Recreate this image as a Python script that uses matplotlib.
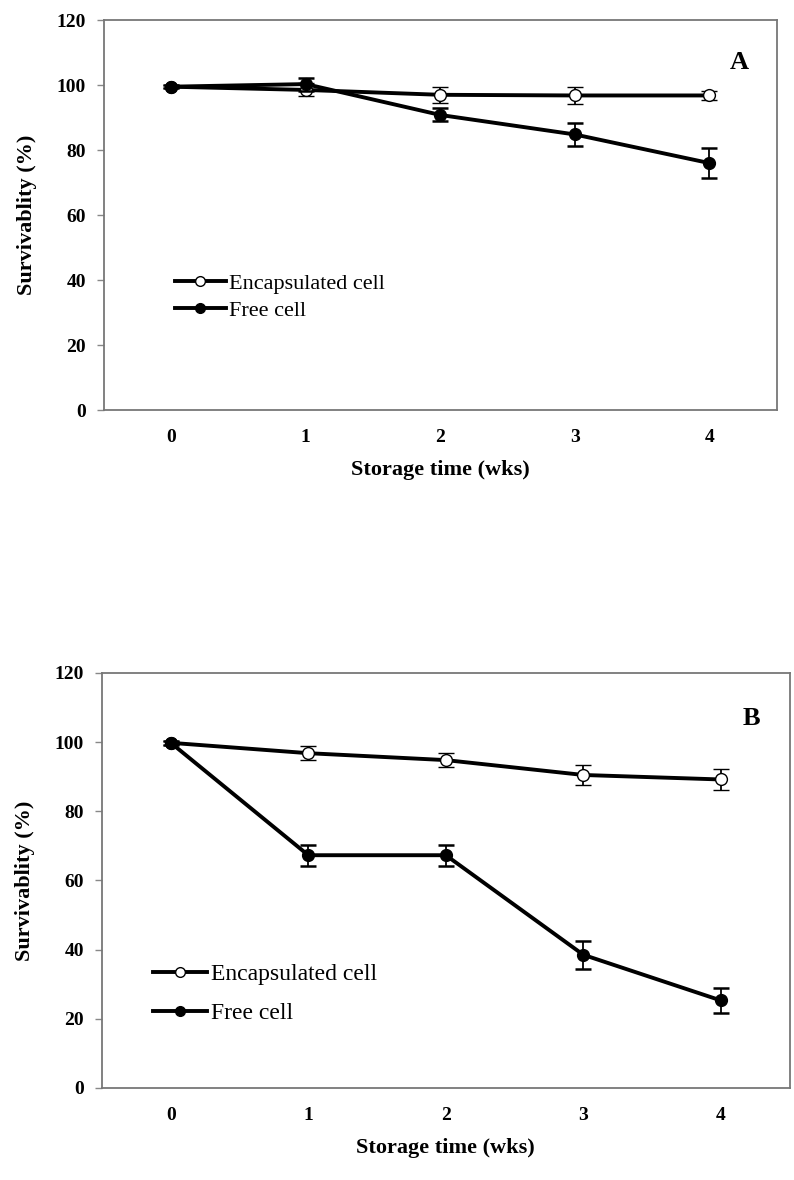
import matplotlib
matplotlib.use("Agg")
import matplotlib.pyplot as plt
from matplotlib.lines import Line2D

weeks = [0, 1, 2, 3, 4]

# panel A
enc_a = [99.5, 98.5, 97.0, 96.8, 96.8]
enc_a_err = [0.5, 2.0, 2.5, 2.5, 1.5]
free_a = [99.5, 100.3, 90.8, 84.8, 76.0]
free_a_err = [0.5, 2.0, 2.0, 3.5, 4.5]

# panel B
enc_b = [99.8, 96.8, 94.8, 90.5, 89.2]
enc_b_err = [0.5, 2.0, 2.0, 3.0, 3.0]
free_b = [99.8, 67.3, 67.3, 38.5, 25.3]
free_b_err = [0.5, 3.0, 3.0, 4.0, 3.5]

yticks = [0, 20, 40, 60, 80, 100, 120]

plt.rcParams['font.family'] = ['Liberation Serif', 'DejaVu Serif']

fig = plt.figure(figsize=(7.94, 11.80), dpi=100)


def draw_panel(ax, enc, enc_err, free, free_err, tag, leg_xy, leg_size, leg_space):
    ax.errorbar(weeks, enc, yerr=enc_err, color='black', lw=2.8,
                marker='o', ms=8.5, mfc='white', mec='black', mew=1.0,
                ecolor='black', elinewidth=1.3, capsize=6, capthick=1.8, zorder=3)
    ax.errorbar(weeks, free, yerr=free_err, color='black', lw=2.8,
                marker='o', ms=8.5, mfc='black', mec='black',
                ecolor='black', elinewidth=1.3, capsize=6, capthick=1.8, zorder=4)
    ax.set_xlim(-0.5, 4.5)
    ax.set_ylim(0, 120)
    ax.set_yticks(yticks)
    ax.set_xticks(weeks)
    ax.tick_params(axis='x', length=0, pad=14, labelsize=14)
    ax.tick_params(axis='y', length=5, width=1, color='#888888', pad=8, labelsize=14)
    for lab in ax.get_xticklabels() + ax.get_yticklabels():
        lab.set_fontweight('bold')
    for s in ax.spines.values():
        s.set_color('#777777')
        s.set_linewidth(1.3)
    ax.set_xlabel('Storage time (wks)', fontsize=16, fontweight='bold', labelpad=10)
    ax.set_ylabel('Survivablity (%)', fontsize=16, fontweight='bold', labelpad=14)
    ax.text(0.945, 0.89, tag, transform=ax.transAxes, fontsize=19,
            fontweight='bold', ha='center', va='center')
    handles = [
        Line2D([], [], color='black', lw=2.8, marker='o', ms=7, mfc='white', mec='black'),
        Line2D([], [], color='black', lw=2.8, marker='o', ms=7, mfc='black', mec='black'),
    ]
    ax.legend(handles, ['Encapsulated cell', 'Free cell'], loc='center left',
              bbox_to_anchor=leg_xy, frameon=False, fontsize=leg_size,
              handlelength=2.3, handletextpad=0.15, labelspacing=leg_space,
              borderpad=0, borderaxespad=0)


ax_a = fig.add_axes([0.131, 0.6525, 0.847, 0.3305])
draw_panel(ax_a, enc_a, enc_a_err, free_a, free_a_err, 'A', (0.105, 0.29), 16, 0.3)

ax_b = fig.add_axes([0.1285, 0.078, 0.866, 0.3517])
draw_panel(ax_b, enc_b, enc_b_err, free_b, free_b_err, 'B', (0.074, 0.2265), 17, 0.75)

fig.savefig('out.png', dpi=100)
